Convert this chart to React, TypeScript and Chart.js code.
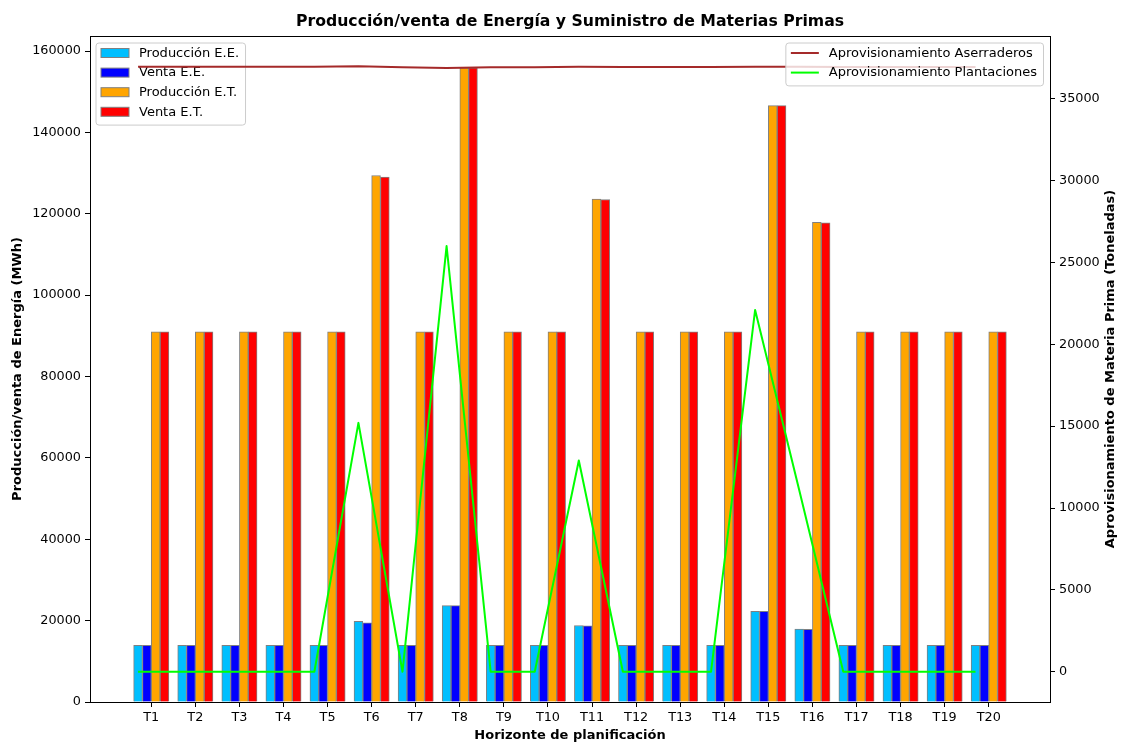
import React, { useEffect, useRef } from 'react';
import { Chart, registerables } from 'chart.js';

Chart.register(...registerables);

const FONT = "'DejaVu Sans', sans-serif";

// ---- Data ----
const periods = ['T1', 'T2', 'T3', 'T4', 'T5', 'T6', 'T7', 'T8', 'T9', 'T10', 'T11', 'T12', 'T13', 'T14', 'T15', 'T16', 'T17', 'T18', 'T19', 'T20'];

const produccionEE = [13900, 13900, 13900, 13900, 13900, 19800, 13900, 23700, 13900, 13900, 18800, 13900, 13900, 13900, 22300, 17900, 13900, 13900, 13900, 13900];
const ventaEE = [13900, 13900, 13900, 13900, 13900, 19450, 13900, 23700, 13900, 13900, 18750, 13900, 13900, 13900, 22300, 17850, 13900, 13900, 13900, 13900];
const produccionET = [91000, 91000, 91000, 91000, 91000, 129400, 91000, 155900, 91000, 91000, 123600, 91000, 91000, 91000, 146600, 117900, 91000, 91000, 91000, 91000];
const ventaET = [91000, 91000, 91000, 91000, 91000, 129000, 91000, 155900, 91000, 91000, 123500, 91000, 91000, 91000, 146600, 117800, 91000, 91000, 91000, 91000];

const aprovAserraderos = [36950, 36950, 36950, 36950, 36950, 36980, 36920, 36870, 36920, 36920, 36950, 36930, 36930, 36930, 36950, 36950, 36940, 36940, 36940, 36940];
const aprovPlantaciones = [0, 0, 0, 0, 0, 15200, 0, 26000, 0, 0, 12900, 0, 0, 0, 22100, 11100, 0, 0, 0, 0];

const leftTicksStep = 20000;
const rightTicksStep = 5000;

const chartTitle = 'Producción/venta de Energía y Suministro de Materias Primas';
const xTitle = 'Horizonte de planificación';
const yTitle = 'Producción/venta de Energía (MWh)';
const y2Title = 'Aprovisionamiento de Materia Prima (Toneladas)';

const barSeries = [
  { label: 'Producción E.E.', values: produccionEE, color: '#00BFFF' },
  { label: 'Venta E.E.', values: ventaEE, color: '#0000FF' },
  { label: 'Producción E.T.', values: produccionET, color: '#FFA500' },
  { label: 'Venta E.T.', values: ventaET, color: '#FF0000' },
];
const lineSeries = [
  { label: 'Aprovisionamiento Aserraderos', values: aprovAserraderos, color: '#A52A2A' },
  { label: 'Aprovisionamiento Plantaciones', values: aprovPlantaciones, color: '#00FF00' },
];

const BAR_W = 0.2;
const barOffsets = [-0.3, -0.1, 0.1, 0.3];
const lineOffset = -0.3;

type LegendItem = { label: string; color: string; kind: 'patch' | 'line' };

function roundRectPath(ctx: CanvasRenderingContext2D, x: number, y: number, w: number, h: number, r: number) {
  ctx.beginPath();
  ctx.moveTo(x + r, y);
  ctx.lineTo(x + w - r, y);
  ctx.arcTo(x + w, y, x + w, y + r, r);
  ctx.lineTo(x + w, y + h - r);
  ctx.arcTo(x + w, y + h, x + w - r, y + h, r);
  ctx.lineTo(x + r, y + h);
  ctx.arcTo(x, y + h, x, y + h - r, r);
  ctx.lineTo(x, y + r);
  ctx.arcTo(x, y, x + r, y, r);
  ctx.closePath();
}

function drawLegend(ctx: CanvasRenderingContext2D, items: LegendItem[], anchorX: number, top: number, align: 'left' | 'right') {
  ctx.save();
  ctx.font = `13px ${FONT}`;
  const textW = Math.max(...items.map((it) => ctx.measureText(it.label).width));
  const padL = 5, handleW = 28, gap = 10, padR = 6.5;
  const rowH = 19.6, padTop = 10, padBottom = 13.3;
  const w = padL + handleW + gap + textW + padR;
  const h = padTop + rowH * (items.length - 1) + padBottom;
  const x = align === 'left' ? anchorX : anchorX - w;
  roundRectPath(ctx, x, top, w, h, 3);
  ctx.fillStyle = 'rgba(255,255,255,0.8)';
  ctx.fill();
  ctx.strokeStyle = '#cccccc';
  ctx.lineWidth = 1;
  ctx.stroke();
  items.forEach((it, i) => {
    const cy = top + padTop + i * rowH;
    const hx = x + padL;
    if (it.kind === 'patch') {
      ctx.fillStyle = it.color;
      ctx.fillRect(hx, cy - 4.5, handleW, 9);
      ctx.strokeStyle = '#808080';
      ctx.lineWidth = 1;
      ctx.strokeRect(hx, cy - 4.5, handleW, 9);
    } else {
      ctx.strokeStyle = it.color;
      ctx.lineWidth = 2;
      ctx.beginPath();
      ctx.moveTo(hx, cy);
      ctx.lineTo(hx + handleW, cy);
      ctx.stroke();
    }
    ctx.fillStyle = '#000';
    ctx.textBaseline = 'middle';
    ctx.textAlign = 'left';
    ctx.fillText(it.label, hx + handleW + gap, cy + 0.5);
  });
  ctx.restore();
}

const mplPlugin = {
  id: 'mplDecor',
  beforeDatasetsDraw(chart: any) {
    const { ctx, chartArea } = chart;
    drawLegend(
      ctx,
      barSeries.map((s) => ({ label: s.label, color: s.color, kind: 'patch' as const })),
      chartArea.left + 6,
      chartArea.top + 7,
      'left'
    );
  },
  afterDatasetsDraw(chart: any) {
    const { ctx, chartArea } = chart;
    drawLegend(
      ctx,
      lineSeries.map((s) => ({ label: s.label, color: s.color, kind: 'line' as const })),
      chartArea.right - 6.5,
      chartArea.top + 7,
      'right'
    );
    ctx.save();
    ctx.strokeStyle = '#000';
    ctx.lineWidth = 1;
    ctx.strokeRect(
      Math.round(chartArea.left) + 0.5,
      Math.round(chartArea.top) + 0.5,
      Math.round(chartArea.right - chartArea.left),
      Math.round(chartArea.bottom - chartArea.top)
    );
    ctx.fillStyle = '#000';
    ctx.textAlign = 'center';
    ctx.textBaseline = 'middle';
    // chart title, centred over the plot area like matplotlib
    ctx.font = `bold 15.7px ${FONT}`;
    ctx.fillText(chartTitle, (chartArea.left + chartArea.right) / 2, 22);
    // right axis title, rotated like matplotlib (reads bottom-to-top)
    ctx.font = `bold 13px ${FONT}`;
    ctx.translate(chart.width - 10.5, (chartArea.top + chartArea.bottom) / 2);
    ctx.rotate(-Math.PI / 2);
    ctx.fillText(y2Title, 0, 0);
    ctx.restore();
  },
};

export default function App() {
  const ref = useRef<HTMLCanvasElement>(null);

  useEffect(() => {
    document.body.style.margin = '0';
    Chart.defaults.font.family = FONT;
    Chart.defaults.color = '#000';
    const canvas = ref.current;
    if (!canvas) return;
    const n = periods.length;

    // matplotlib-like autoscaling (5% margins)
    const xLo = barOffsets[0] - BAR_W / 2;
    const xHi = n - 1 + barOffsets[3] + BAR_W / 2;
    const xm = 0.05 * (xHi - xLo);
    const leftMax = Math.max(...produccionEE, ...ventaEE, ...produccionET, ...ventaET) * 1.05;
    const allLines = [...aprovAserraderos, ...aprovPlantaciones];
    const lMin = Math.min(...allLines), lMax = Math.max(...allLines);
    const lm = 0.05 * (lMax - lMin);

    const datasets: any[] = [
      ...lineSeries.map((s) => ({
        type: 'line',
        label: s.label,
        data: s.values.map((v, i) => ({ x: i + lineOffset, y: v })),
        borderColor: s.color,
        backgroundColor: s.color,
        borderWidth: 2,
        borderJoinStyle: 'round',
        borderCapStyle: 'butt',
        pointRadius: 0,
        tension: 0,
        fill: false,
        xAxisID: 'x',
        yAxisID: 'y2',
        order: 0,
      })),
      ...barSeries.map((s, k) => ({
        type: 'bar',
        label: s.label,
        data: s.values.map((v, i) => ({ x: i + barOffsets[k], y: v })),
        backgroundColor: s.color,
        borderColor: '#808080',
        borderWidth: 1,
        grouped: false,
        barPercentage: 1,
        categoryPercentage: 1,
        xAxisID: 'x',
        yAxisID: 'y',
        order: 1,
      })),
    ];

    const tickGrid = { display: true, drawOnChartArea: false, drawTicks: true, tickLength: 5, color: '#000', lineWidth: 1, offset: false };
    const tickFont = { size: 12.8, family: FONT };
    const titleFont = { size: 13, weight: 'bold' as const, family: FONT };
    const plain = (v: any) => String(Math.round(Number(v)));

    const chart = new Chart(canvas, {
      type: 'bar',
      data: { datasets },
      plugins: [mplPlugin],
      options: {
        animation: false,
        responsive: false,
        devicePixelRatio: 1,
        events: [],
        layout: { padding: { top: 36, left: 0, right: 0, bottom: 0 } },
        plugins: {
          legend: { display: false },
          tooltip: { enabled: false },
          title: { display: false },
        },
        scales: {
          x: {
            type: 'linear',
            position: 'bottom',
            offset: false,
            min: xLo - xm,
            max: xHi + xm,
            grid: tickGrid,
            border: { display: true, color: '#000', width: 1 },
            ticks: {
              font: tickFont,
              color: '#000',
              padding: 3,
              autoSkip: false,
              maxRotation: 0,
              callback: (v: any) => periods[Math.round(Number(v))] ?? '',
            },
            afterBuildTicks: (scale: any) => {
              scale.ticks = periods.map((_, i) => ({ value: i }));
            },
            afterFit: (scale: any) => {
              scale.height = 41;
            },
            title: { display: true, text: xTitle, font: titleFont, color: '#000', padding: { top: 0, bottom: 0 } },
          },
          y: {
            type: 'linear',
            position: 'left',
            min: 0,
            max: leftMax,
            grid: tickGrid,
            border: { display: true, color: '#000', width: 1 },
            ticks: { font: tickFont, color: '#000', padding: 4, callback: plain },
            afterBuildTicks: (scale: any) => {
              const t: any[] = [];
              for (let v = 0; v <= leftMax; v += leftTicksStep) t.push({ value: v });
              scale.ticks = t;
            },
            afterFit: (scale: any) => {
              scale.width = 90;
            },
            title: { display: true, text: yTitle, font: titleFont, color: '#000', padding: { top: 9.5, bottom: 0 } },
          },
          y2: {
            type: 'linear',
            position: 'right',
            min: lMin - lm,
            max: lMax + lm,
            grid: tickGrid,
            border: { display: true, color: '#000', width: 1 },
            ticks: { font: tickFont, color: '#000', padding: 4, callback: plain },
            afterBuildTicks: (scale: any) => {
              const t: any[] = [];
              for (let v = Math.ceil((lMin - lm) / rightTicksStep) * rightTicksStep; v <= lMax + lm; v += rightTicksStep) t.push({ value: v });
              scale.ticks = t;
            },
            afterFit: (scale: any) => {
              scale.width = 71;
            },
            title: { display: false },
          },
        },
      } as any,
    });
    return () => chart.destroy();
  }, []);

  return (
    <div style={{ width: 1121, height: 743 }}>
      <canvas ref={ref} width={1121} height={743} style={{ display: 'block', width: 1121, height: 743 }} />
    </div>
  );
}
